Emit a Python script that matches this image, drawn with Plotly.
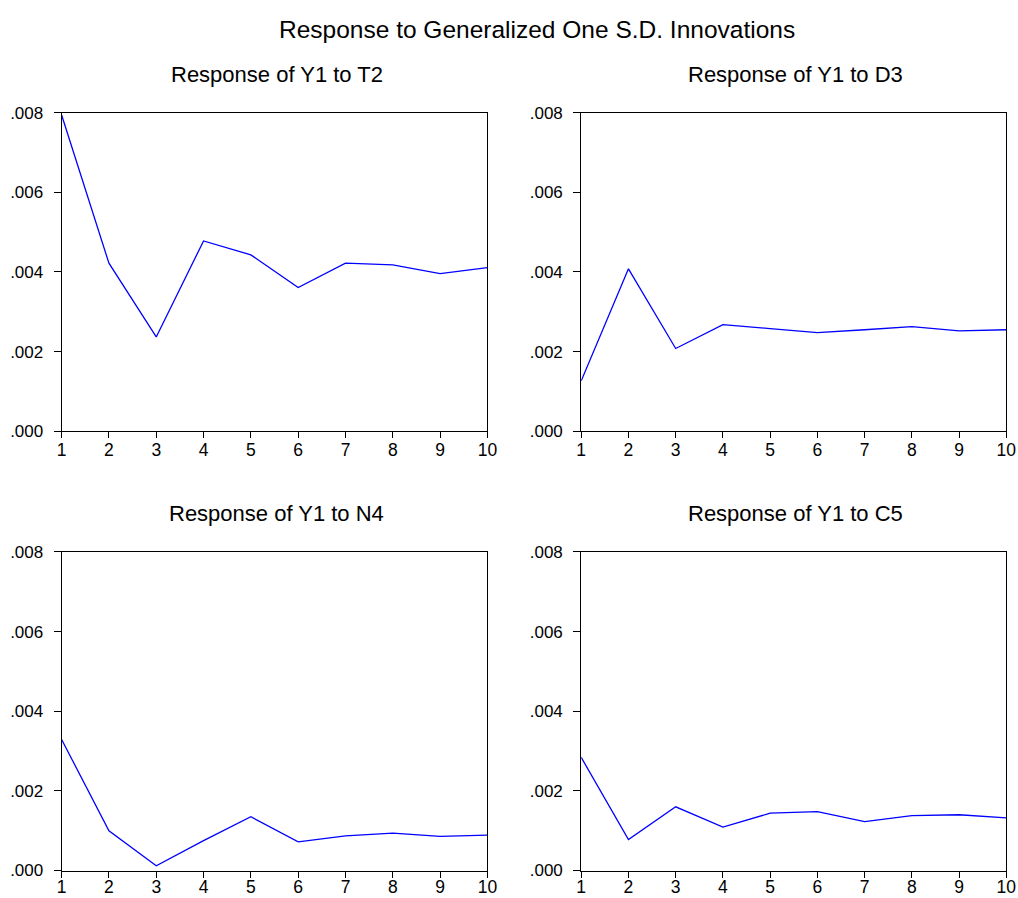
import plotly.graph_objects as go

periods = [1, 2, 3, 4, 5, 6, 7, 8, 9, 10]
y1_to_t2 = [0.00794, 0.00422, 0.00237, 0.00478, 0.00443, 0.00361, 0.00422, 0.00418, 0.00396, 0.00411]
y1_to_d3 = [0.00127, 0.00408, 0.00208, 0.00268, 0.00258, 0.00248, 0.00255, 0.00263, 0.00252, 0.00255]
y1_to_n4 = [0.00329, 0.00100, 0.00012, 0.00075, 0.00135, 0.00072, 0.00087, 0.00094, 0.00086, 0.00089]
y1_to_c5 = [0.00284, 0.00078, 0.00160, 0.00109, 0.00144, 0.00148, 0.00123, 0.00138, 0.00140, 0.00132]

panel_titles = ["Response of Y1 to T2", "Response of Y1 to D3",
                "Response of Y1 to N4", "Response of Y1 to C5"]
series = [y1_to_t2, y1_to_d3, y1_to_n4, y1_to_c5]
y_tickvals = [0.0, 0.002, 0.004, 0.006, 0.008]
y_ticktext = [".000", ".002", ".004", ".006", ".008"]
main_title = "Response to Generalized One S.D. Innovations"

# compensation for observed capture mapping: picture = s * page + o
SX, OX, SY, OY = 0.9875, 3.25, 0.981, 7.5
W, H = 1028, 909


def px(t):
    return (t - OX) / SX


def py(t):
    return (t - OY) / SY


def fx(t):
    return px(t) / W


def fy(t):
    return (H - py(t)) / H


xdoms = [[fx(60), fx(486.7)], [fx(580.7), fx(1006.7)]]
ydoms = [[fy(430.7), fy(111.3)], [fy(870.7), fy(551.5)]]

fig = go.Figure()
font = "Liberation Sans, Arial, sans-serif"
annotations = []
sub_x = [275.5, 795.0]
sub_y = [72.7, 513.2]
x_standoff = [-3, -6]
for i, (vals, title) in enumerate(zip(series, panel_titles)):
    r, c = divmod(i, 2)
    idx = "" if i == 0 else str(i + 1)
    fig.add_trace(go.Scatter(x=periods, y=vals, mode="lines",
                             line=dict(color="#0000FF", width=1.3),
                             xaxis="x" + idx, yaxis="y" + idx, showlegend=False,
                             hoverinfo="x+y"))
    ax = dict(domain=xdoms[c], range=[1, 10], tickvals=periods,
              showline=True, mirror=True, linecolor="black", linewidth=1,
              ticks="outside", ticklen=6, tickcolor="black", showgrid=False,
              ticklabelstandoff=x_standoff[r],
              zeroline=False, tickfont=dict(family=font, size=17.5, color="black"),
              anchor="y" + idx, fixedrange=True)
    ay = dict(domain=ydoms[r], range=[0, 0.008], tickvals=y_tickvals, ticktext=y_ticktext,
              showline=True, mirror=True, linecolor="black", linewidth=1,
              ticks="outside", ticklen=7, tickcolor="black", showgrid=False,
              ticklabelstandoff=7,
              zeroline=False, tickfont=dict(family=font, size=17, color="black"),
              anchor="x" + idx, fixedrange=True)
    fig.update_layout(**{"xaxis" + idx: ax, "yaxis" + idx: ay})
    annotations.append(dict(text=title, x=fx(sub_x[c]), y=fy(sub_y[r]),
                            xref="paper", yref="paper", showarrow=False,
                            xanchor="center", yanchor="middle",
                            font=dict(family=font, size=22, color="black")))

annotations.append(dict(text=main_title, x=fx(536.5), y=fy(28.3), xref="paper", yref="paper",
                        showarrow=False, xanchor="center", yanchor="middle",
                        font=dict(family=font, size=24.5, color="black")))

fig.update_layout(width=W, height=H, margin=dict(l=0, r=0, t=0, b=0),
                  paper_bgcolor="white", plot_bgcolor="white",
                  annotations=annotations)
fig.write_html("out.html", config={"displayModeBar": False},
               post_script="document.body.style.margin='0';document.body.style.padding='0';"
                           "document.documentElement.style.overflow='hidden';")
